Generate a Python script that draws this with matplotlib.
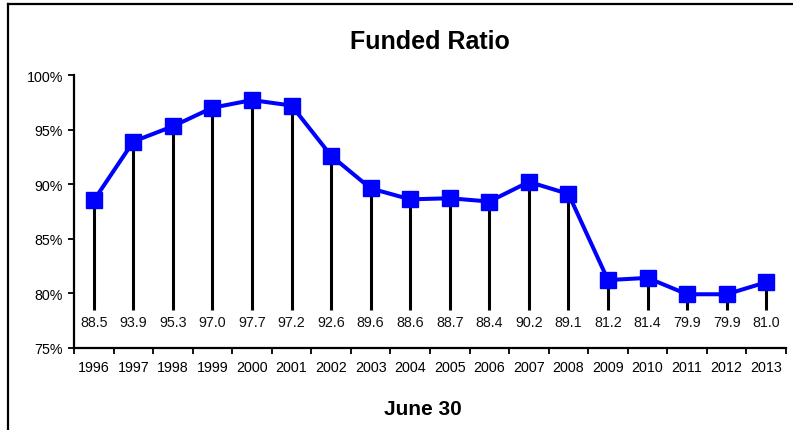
import matplotlib
matplotlib.use("Agg")
import matplotlib.pyplot as plt
from matplotlib.lines import Line2D

plt.rcParams['font.family'] = ['Liberation Sans', 'DejaVu Sans']

years = ["1996", "1997", "1998", "1999", "2000", "2001", "2002", "2003", "2004",
         "2005", "2006", "2007", "2008", "2009", "2010", "2011", "2012", "2013"]
funded = [88.5, 93.9, 95.3, 97.0, 97.7, 97.2, 92.6, 89.6, 88.6,
          88.7, 88.4, 90.2, 89.1, 81.2, 81.4, 79.9, 79.9, 81.0]
yticks = [75, 80, 85, 90, 95, 100]
ytick_labels = ["75%", "80%", "85%", "90%", "95%", "100%"]
title = "Funded Ratio"
xlabel = "June 30"

stem_bottom = 78.5
label_y = 77.4

fig = plt.figure(figsize=(7.93, 4.31), dpi=100)
ax = fig.add_axes([74/793, 1 - 348.7/431, (786 - 74)/793, (348.7 - 76)/431])

x = list(range(len(years)))
ax.vlines(x, stem_bottom, funded, colors='black', linewidth=2.2, zorder=2)
ax.plot(x, funded, color='#0000FF', linewidth=2.9, marker='s', markersize=11,
        markerfacecolor='#0000FF', markeredgecolor='#0000FF', zorder=3)
for xi, v in zip(x, funded):
    ax.text(xi, label_y, f"{v:.1f}", ha='center', va='center', fontsize=10.3, color='#111111')

ax.set_xlim(-0.5, len(years) - 0.5)
ax.set_ylim(75, 100)
ax.set_yticks(yticks)
ax.set_yticklabels(ytick_labels, fontsize=10.3)
ax.set_xticks([i - 0.5 for i in range(len(years) + 1)], minor=False)
ax.set_xticklabels([])
ax.set_xticks(x, minor=True)
ax.set_xticklabels(years, minor=True, fontsize=10.3)
ax.tick_params(axis='x', which='major', direction='out', length=4, width=1.3)
ax.tick_params(axis='x', which='minor', length=0, pad=9)
ax.tick_params(axis='y', direction='out', length=4, width=1.3, pad=4)
for s in ['top', 'right']:
    ax.spines[s].set_visible(False)
for s in ['left', 'bottom']:
    ax.spines[s].set_linewidth(1.6)

fig.text(430/793, 1 - 42/431, title, ha='center', va='center', fontsize=18, fontweight='bold')
fig.text(422.5/793, 1 - 410/431, xlabel, ha='center', va='center', fontsize=15, fontweight='bold')

# figure border (top and left)
fig.add_artist(Line2D([8/793, 8/793], [0, 1 - 5/431], transform=fig.transFigure, color='black', linewidth=1.6))
fig.add_artist(Line2D([8/793, 1], [1 - 5/431, 1 - 5/431], transform=fig.transFigure, color='black', linewidth=1.6))

fig.savefig("out.png", dpi=100)
